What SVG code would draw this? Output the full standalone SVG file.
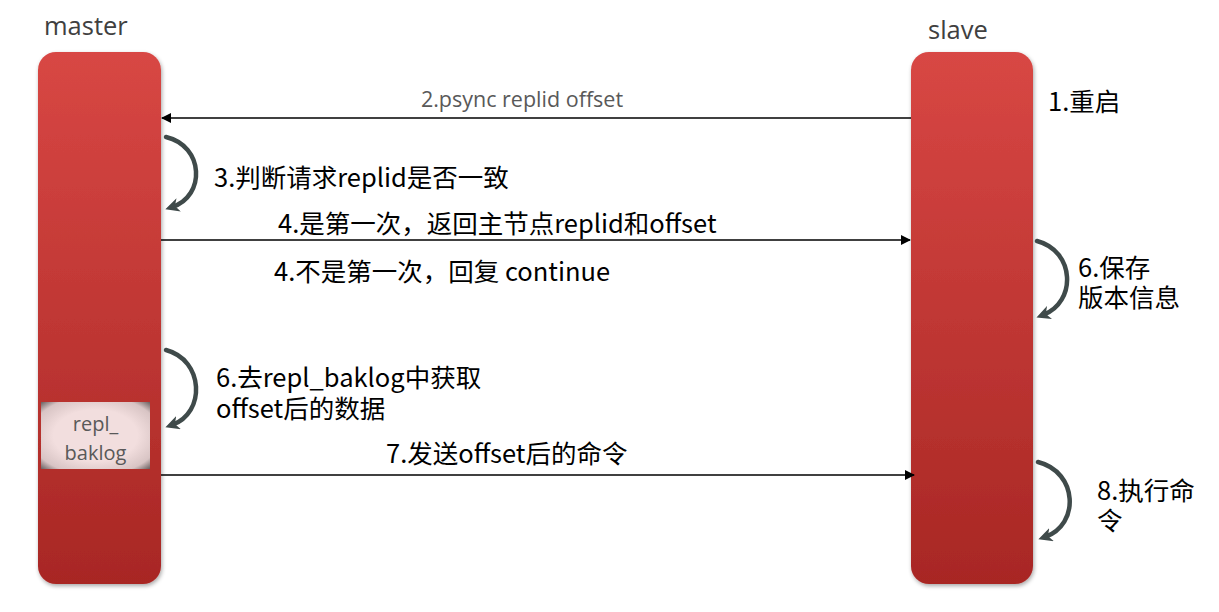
<svg xmlns="http://www.w3.org/2000/svg" width="1219" height="612" viewBox="0 0 1219 612">
<defs>
<linearGradient id="bar" x1="0" y1="0" x2="0" y2="1">
<stop offset="0" stop-color="#D84744"/>
<stop offset="1" stop-color="#A82724"/>
</linearGradient>
<radialGradient id="box" cx="0.5" cy="0.5" r="0.7">
<stop offset="0.55" stop-color="#F2DEDE"/>
<stop offset="0.85" stop-color="#D8C4C4"/>
<stop offset="1" stop-color="#6E6464"/>
</radialGradient>
<filter id="sh" x="-10%" y="-5%" width="120%" height="110%">
<feGaussianBlur in="SourceAlpha" stdDeviation="2"/>
<feOffset dx="1" dy="2"/>
<feComponentTransfer><feFuncA type="linear" slope="0.35"/></feComponentTransfer>
<feMerge><feMergeNode/><feMergeNode in="SourceGraphic"/></feMerge>
</filter>
<marker id="ah" markerWidth="10" markerHeight="10" refX="9" refY="5" orient="auto" markerUnits="userSpaceOnUse">
<path d="M0,0 L10,5 L0,10 Z" fill="#000"/>
</marker>
<marker id="ch" markerWidth="14" markerHeight="14" refX="7" refY="7" orient="auto" markerUnits="userSpaceOnUse">
<path d="M0,0 L14,7 L0,14 L4,7 Z" fill="#3F4A4A"/>
</marker>
<style>
.cn{font-family:"Noto Sans CJK SC","Noto Sans",sans-serif;fill:#000;font-size:25.5px}
.head{font-family:"Open Sans","Noto Sans",sans-serif;fill:#404040;font-size:25.5px}
.gray{font-family:"Open Sans","Noto Sans",sans-serif;fill:#595959;font-size:20px}
.ln{stroke:#000;stroke-width:1.5;fill:none}
.crv{stroke:#3F4A4A;stroke-width:4.5;fill:none;stroke-linecap:round}
</style>
</defs>

<g id="master">
<rect x="38" y="52" width="123" height="532" rx="18" fill="url(#bar)" filter="url(#sh)"/>
<text class="head" x="44" y="35">master</text>
</g>
<g id="repl_baklog">
<rect x="41" y="402" width="109" height="67" fill="url(#box)"/>
<text class="gray" text-anchor="middle"><tspan x="95.5" y="431">repl_</tspan><tspan x="95.5" y="460">baklog</tspan></text>
</g>
<g id="slave">
<rect x="911" y="52" width="122" height="532" rx="18" fill="url(#bar)" filter="url(#sh)"/>
<text class="head" x="928" y="39">slave</text>
</g>

<g id="connectors">
<line class="ln" x1="911" y1="118" x2="162" y2="118" marker-end="url(#ah)"/>
<line class="ln" x1="161" y1="240" x2="910" y2="240" marker-end="url(#ah)"/>
<line class="ln" x1="161" y1="475" x2="914" y2="475" marker-end="url(#ah)"/>
<path class="crv" d="M166,137 C204,146 206,196 172,207" marker-end="url(#ch)"/>
<path class="crv" d="M166,350 C204,360 206,413 172,425" marker-end="url(#ch)"/>
<path class="crv" d="M1037,241 C1075,251 1077,302 1043,315" marker-end="url(#ch)"/>
<path class="crv" d="M1038,462 C1078,472 1080,525 1045,537" marker-end="url(#ch)"/>
</g>

<g id="labels">
<text class="gray" x="522" y="107" text-anchor="middle" style="font-size:21.5px">2.psync replid offset</text>
<text class="cn" x="1048" y="111">1.重启</text>
<text class="cn" x="214" y="187">3.判断请求replid是否一致</text>
<text class="cn" x="278" y="233">4.是第一次，返回主节点replid和offset</text>
<text class="cn" x="274" y="281">4.不是第一次，回复 continue</text>
<text class="cn"><tspan x="1078" y="277">6.保存</tspan><tspan x="1078" y="307">版本信息</tspan></text>
<text class="cn"><tspan x="216" y="387">6.去repl_baklog中获取</tspan><tspan x="216" y="418">offset后的数据</tspan></text>
<text class="cn" x="386" y="463">7.发送offset后的命令</text>
<text class="cn"><tspan x="1097" y="500">8.执行命</tspan><tspan x="1097" y="530">令</tspan></text>
</g>
</svg>
